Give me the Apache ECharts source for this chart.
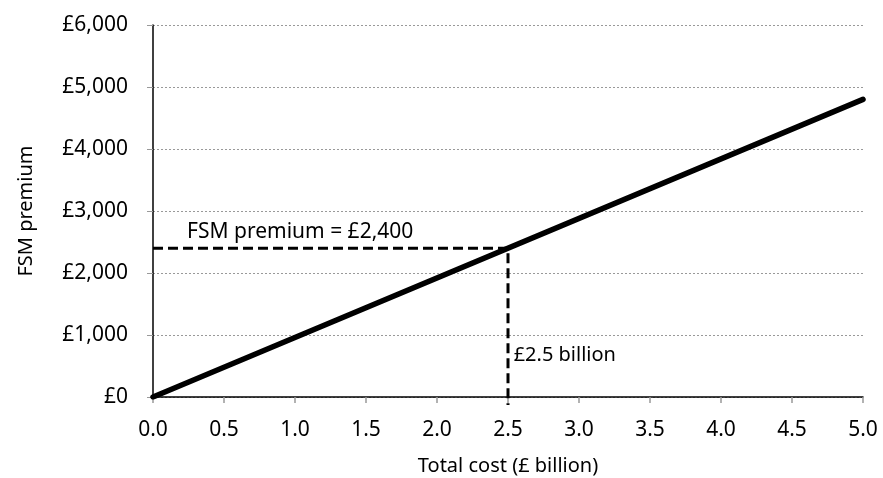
<!DOCTYPE html>
<html>
<head>
<meta charset="utf-8">
<script src="https://cdn.jsdelivr.net/npm/echarts@6/dist/echarts.min.js"></script>
<style>
  html, body { margin: 0; padding: 0; background: #fff; }
  #chart { width: 883px; height: 478px; }
</style>
</head>
<body>
<div id="chart"></div>
<script>
// total cost (£ billion) vs FSM premium (£)
var costLine = [[0, 0], [5, 4800]];
// reference guide: £2.5 billion -> £2,400
var guideLine = [[0, 2400], [2.5, 2400], [2.5, -130]];
var premiumNote = [[0.24, 2660]];
var costNote = [[2.54, 677]];
var premiumText = 'FSM premium = £2,400';
var costText = '£2.5 billion';

var font = 'Noto Sans';

var chart = echarts.init(document.getElementById('chart'));
chart.setOption({
  backgroundColor: '#fff',
  animation: false,
  textStyle: { fontFamily: font },
  grid: { left: 153, right: 20, top: 25, bottom: 81, outerBoundsMode: 'none' },
  xAxis: {
    type: 'value',
    min: 0, max: 5, interval: 0.5,
    name: 'Total cost (£ billion)',
    nameLocation: 'middle',
    nameGap: 59,
    nameTextStyle: { color: '#000', fontSize: 20, fontFamily: font },
    axisLine: { lineStyle: { color: '#000', width: 1.5 } },
    axisTick: { show: true, length: 6, lineStyle: { color: '#999', width: 1.5 } },
    axisLabel: {
      color: '#000', fontSize: 21, margin: 23, fontFamily: font,
      formatter: function (v) { return v.toFixed(1); }
    },
    splitLine: { show: false }
  },
  yAxis: {
    type: 'value',
    min: 0, max: 6000, interval: 1000,
    name: 'FSM premium',
    nameLocation: 'middle',
    nameGap: 117,
    nameTextStyle: { color: '#000', fontSize: 20, fontFamily: font },
    axisLine: { show: true, lineStyle: { color: '#000', width: 1.5 } },
    axisTick: { show: true, length: 6, lineStyle: { color: '#999', width: 1 } },
    axisLabel: {
      color: '#000', fontSize: 21, margin: 25, fontFamily: font,
      formatter: function (v) { return '£' + v.toLocaleString('en-GB'); }
    },
    splitLine: { show: true, lineStyle: { color: '#999', type: [2, 2], width: 1 } }
  },
  series: [
    {
      type: 'line',
      data: costLine,
      symbol: 'none',
      lineStyle: { color: '#000', width: 5.5, cap: 'round' },
      z: 3
    },
    {
      type: 'line',
      data: guideLine,
      symbol: 'none',
      clip: false,
      lineStyle: { color: '#000', width: 3, type: [10, 5] },
      z: 4
    },
    {
      type: 'scatter',
      data: premiumNote,
      symbolSize: 0,
      itemStyle: { opacity: 1 },
      label: {
        show: true, position: 'right', distance: 0,
        formatter: premiumText, color: '#000', fontSize: 21, fontFamily: font
      }
    },
    {
      type: 'scatter',
      data: costNote,
      symbolSize: 0,
      itemStyle: { opacity: 1 },
      label: {
        show: true, position: 'right', distance: 0,
        formatter: costText, color: '#000', fontSize: 20, fontFamily: font
      }
    }
  ]
});
</script>
</body>
</html>
